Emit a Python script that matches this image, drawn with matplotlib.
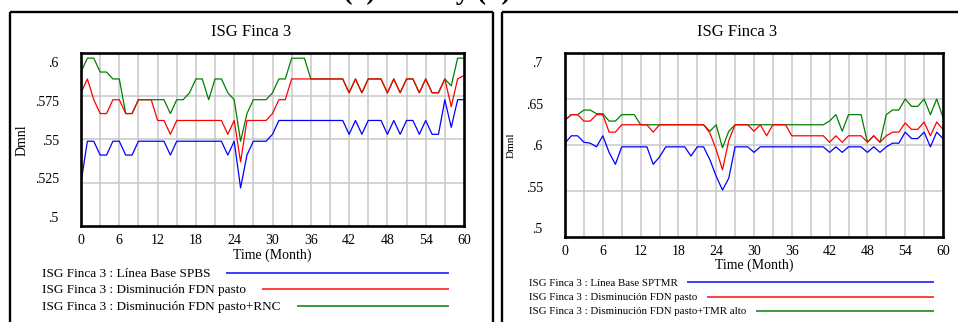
import matplotlib
matplotlib.use("Agg")
import matplotlib.pyplot as plt
from matplotlib.lines import Line2D

plt.rcParams['font.family'] = ['Liberation Serif', 'DejaVu Serif']

W, H = 958, 322

months = list(range(61))

# ISG Finca 3 - escenario SPBS
spbs_base = [0.525, 0.549, 0.549, 0.541, 0.541, 0.549, 0.549, 0.541, 0.541, 0.549,
             0.549, 0.549, 0.549, 0.549, 0.541, 0.549, 0.549, 0.549, 0.549, 0.549,
             0.549, 0.549, 0.549, 0.541, 0.549, 0.522, 0.541, 0.549, 0.549, 0.549,
             0.553, 0.561, 0.561, 0.561, 0.561, 0.561, 0.561, 0.561, 0.561, 0.561,
             0.561, 0.561, 0.553, 0.561, 0.553, 0.561, 0.561, 0.561, 0.553, 0.561,
             0.553, 0.561, 0.561, 0.553, 0.561, 0.553, 0.553, 0.573, 0.557, 0.573,
             0.573]
spbs_fdn = [0.577, 0.585, 0.573, 0.565, 0.565, 0.573, 0.573, 0.565, 0.565, 0.573,
            0.573, 0.573, 0.561, 0.561, 0.553, 0.561, 0.561, 0.561, 0.561, 0.561,
            0.561, 0.561, 0.561, 0.553, 0.561, 0.537, 0.561, 0.561, 0.561, 0.561,
            0.565, 0.573, 0.573, 0.585, 0.585, 0.585, 0.585, 0.585, 0.585, 0.585,
            0.585, 0.585, 0.577, 0.585, 0.577, 0.585, 0.585, 0.585, 0.577, 0.585,
            0.577, 0.585, 0.585, 0.577, 0.585, 0.577, 0.577, 0.585, 0.569, 0.585,
            0.587]
spbs_rnc = [0.589, 0.597, 0.597, 0.589, 0.589, 0.585, 0.585, 0.565, 0.565, 0.573,
            0.573, 0.573, 0.573, 0.573, 0.565, 0.573, 0.573, 0.577, 0.585, 0.585,
            0.573, 0.585, 0.585, 0.577, 0.573, 0.549, 0.565, 0.573, 0.573, 0.573,
            0.577, 0.585, 0.585, 0.597, 0.597, 0.597, 0.585, 0.585, 0.585, 0.585,
            0.585, 0.585, 0.577, 0.585, 0.577, 0.585, 0.585, 0.585, 0.577, 0.585,
            0.577, 0.585, 0.585, 0.577, 0.585, 0.577, 0.577, 0.585, 0.581, 0.597,
            0.597]

# ISG Finca 3 - escenario SPTMR
sptmr_base = [0.602, 0.610, 0.610, 0.603, 0.602, 0.598, 0.610, 0.592, 0.579, 0.598,
              0.598, 0.598, 0.598, 0.598, 0.579, 0.587, 0.598, 0.598, 0.598, 0.598,
              0.588, 0.598, 0.598, 0.584, 0.566, 0.551, 0.564, 0.598, 0.598, 0.598,
              0.592, 0.598, 0.598, 0.598, 0.598, 0.598, 0.598, 0.598, 0.598, 0.598,
              0.598, 0.598, 0.592, 0.598, 0.592, 0.598, 0.598, 0.598, 0.592, 0.598,
              0.592, 0.598, 0.602, 0.602, 0.614, 0.607, 0.607, 0.614, 0.598, 0.614,
              0.607]
sptmr_fdn = [0.627, 0.633, 0.633, 0.626, 0.626, 0.633, 0.633, 0.614, 0.614, 0.622,
             0.622, 0.622, 0.622, 0.622, 0.614, 0.622, 0.622, 0.622, 0.622, 0.622,
             0.622, 0.622, 0.622, 0.613, 0.595, 0.573, 0.605, 0.622, 0.622, 0.622,
             0.615, 0.622, 0.610, 0.622, 0.622, 0.622, 0.610, 0.610, 0.610, 0.610,
             0.610, 0.610, 0.603, 0.610, 0.603, 0.610, 0.610, 0.610, 0.603, 0.610,
             0.603, 0.610, 0.614, 0.614, 0.624, 0.617, 0.617, 0.625, 0.610, 0.625,
             0.617]
sptmr_tmr = [0.627, 0.633, 0.633, 0.638, 0.638, 0.634, 0.634, 0.626, 0.626, 0.633,
             0.633, 0.633, 0.622, 0.622, 0.622, 0.622, 0.622, 0.622, 0.622, 0.622,
             0.622, 0.622, 0.622, 0.615, 0.622, 0.597, 0.615, 0.622, 0.622, 0.622,
             0.622, 0.622, 0.622, 0.622, 0.622, 0.622, 0.622, 0.622, 0.622, 0.622,
             0.622, 0.622, 0.626, 0.633, 0.615, 0.633, 0.633, 0.633, 0.603, 0.610,
             0.603, 0.633, 0.638, 0.638, 0.650, 0.642, 0.642, 0.650, 0.633, 0.650,
             0.630]

x_ticks = list(range(0, 61, 6))
left_ylim = (0.5, 0.6)
left_labels = ['.6', '.575', '.55', '.525', '.5']
left_grid = [0.525, 0.55, 0.575]
right_ylim = (0.5, 0.7)
right_labels = ['.7', '.65', '.6', '.55', '.5']
right_grid = [0.55, 0.6, 0.65]

caption = 'Comportamiento del indicador ISG en la Finca 3 (a) SPBS y (b) SPTMR'
left_legend = ['ISG Finca 3 : Línea Base SPBS',
               'ISG Finca 3 : Disminución FDN pasto',
               'ISG Finca 3 : Disminución FDN pasto+RNC']
right_legend = ['ISG Finca 3 : Línea Base SPTMR',
                'ISG Finca 3 : Disminución FDN pasto',
                'ISG Finca 3 : Disminución FDN pasto+TMR alto']
colors = ['#0000ff', '#ff0000', '#008000']
legend_colors = ['#3d3dff', '#ff4040', '#3c9a3c']


def fx(x):
    return x / W


def fy(y):
    return 1 - y / H


fig = plt.figure(figsize=(W / 100, H / 100), dpi=100)
fig.patch.set_facecolor('white')
renderer = fig.canvas.get_renderer()

# caption line running along the top edge; place "(a)" at a fixed column
cap_kw = dict(fontsize=20, fontweight='bold', ha='left', va='baseline')
probe = fig.text(0, 0, caption[:caption.index('(a)')], **cap_kw)
prefix_w = probe.get_window_extent(renderer).width
probe.remove()
fig.text(fx(343 - prefix_w), fy(-1), caption, **cap_kw)

# panel frames
frame_kw = dict(color='black', lw=1.7, transform=fig.transFigure, solid_capstyle='butt')
fig.add_artist(Line2D([fx(10), fx(10)], [fy(12), fy(330)], **frame_kw))
fig.add_artist(Line2D([fx(10), fx(493)], [fy(12), fy(12)], **frame_kw))
fig.add_artist(Line2D([fx(493), fx(493)], [fy(12), fy(330)], **frame_kw))
fig.add_artist(Line2D([fx(502), fx(502)], [fy(12), fy(330)], **frame_kw))
fig.add_artist(Line2D([fx(502), fx(970)], [fy(12), fy(12)], **frame_kw))


def panel(box, series, ylim, labels, grid_vals, pad_px, tick_fs):
    x0, y0, x1, y1 = box
    ax = fig.add_axes([fx(x0), fy(y1), fx(x1) - fx(x0), (y1 - y0) / H])
    ax.set_xlim(0, 60)
    ax.set_ylim(*ylim)
    for m in range(3, 60, 3):
        ax.axvline(m, color='#c8c8c8', lw=1.1, zorder=1)
    for g in grid_vals:
        ax.axhline(g, color='#c8c8c8', lw=1.1, zorder=1)
    for vals, c, z in zip(series, colors, [4, 3, 2]):
        ax.plot(months, vals, color=c, lw=0.9, zorder=z, clip_on=True)
    ax.set_xticks(x_ticks)
    ax.set_xticklabels([str(t) for t in x_ticks], fontsize=tick_fs)
    # value labels sit slightly inside the top and bottom edges
    span = ylim[1] - ylim[0]
    pad = pad_px / (y1 - y0) * span
    step = (span - 2 * pad) / (len(labels) - 1)
    ax.set_yticks([ylim[1] - pad - i * step for i in range(len(labels))])
    ax.set_yticklabels(labels, fontsize=tick_fs)
    ax.tick_params(length=0, pad=0)
    ax.tick_params(axis='y', pad=16)
    ax.tick_params(axis='x', pad=6)
    for s in ax.spines.values():
        s.set_linewidth(1.9)
        s.set_color('black')
        s.set_zorder(6)
    return ax


axL = panel((81, 53, 464, 226), [spbs_base, spbs_fdn, spbs_rnc], left_ylim,
            left_labels, left_grid, 9, 10)
axR = panel((565, 53, 943, 237), [sptmr_base, sptmr_fdn, sptmr_tmr], right_ylim,
            right_labels, right_grid, 9, 10)

# titles and axis names
fig.text(fx(251.5), fy(32), 'ISG Finca 3', fontsize=12, ha='center', va='center')
fig.text(fx(737.5), fy(32), 'ISG Finca 3', fontsize=12, ha='center', va='center')
fig.text(fx(272.5), fy(255), 'Time (Month)', fontsize=10, ha='center', va='center')
fig.text(fx(754), fy(265), 'Time (Month)', fontsize=10, ha='center', va='center')
fig.text(fx(22), fy(140), 'Dmnl', fontsize=10, rotation=90, ha='center', va='center')
fig.text(fx(511), fy(145), 'Dmnl', fontsize=8, rotation=90, ha='center', va='center')

# legends
for i, (lab, lc, xs) in enumerate(zip(left_legend, legend_colors, [227, 263, 298])):
    y = [274, 290, 307][i]
    fig.text(fx(42), fy(y), lab, fontsize=9.5, ha='left', va='center')
    fig.add_artist(Line2D([fx(xs), fx(448)], [fy(y - 1), fy(y - 1)], color=lc, lw=1.4,
                          transform=fig.transFigure))
for i, (lab, lc, xs) in enumerate(zip(right_legend, legend_colors, [688, 708, 757])):
    y = [283, 298, 312][i]
    fig.text(fx(529), fy(y), lab, fontsize=7.8, ha='left', va='center')
    fig.add_artist(Line2D([fx(xs), fx(933)], [fy(y - 1), fy(y - 1)], color=lc, lw=1.4,
                          transform=fig.transFigure))

fig.savefig('out.png', dpi=100)
